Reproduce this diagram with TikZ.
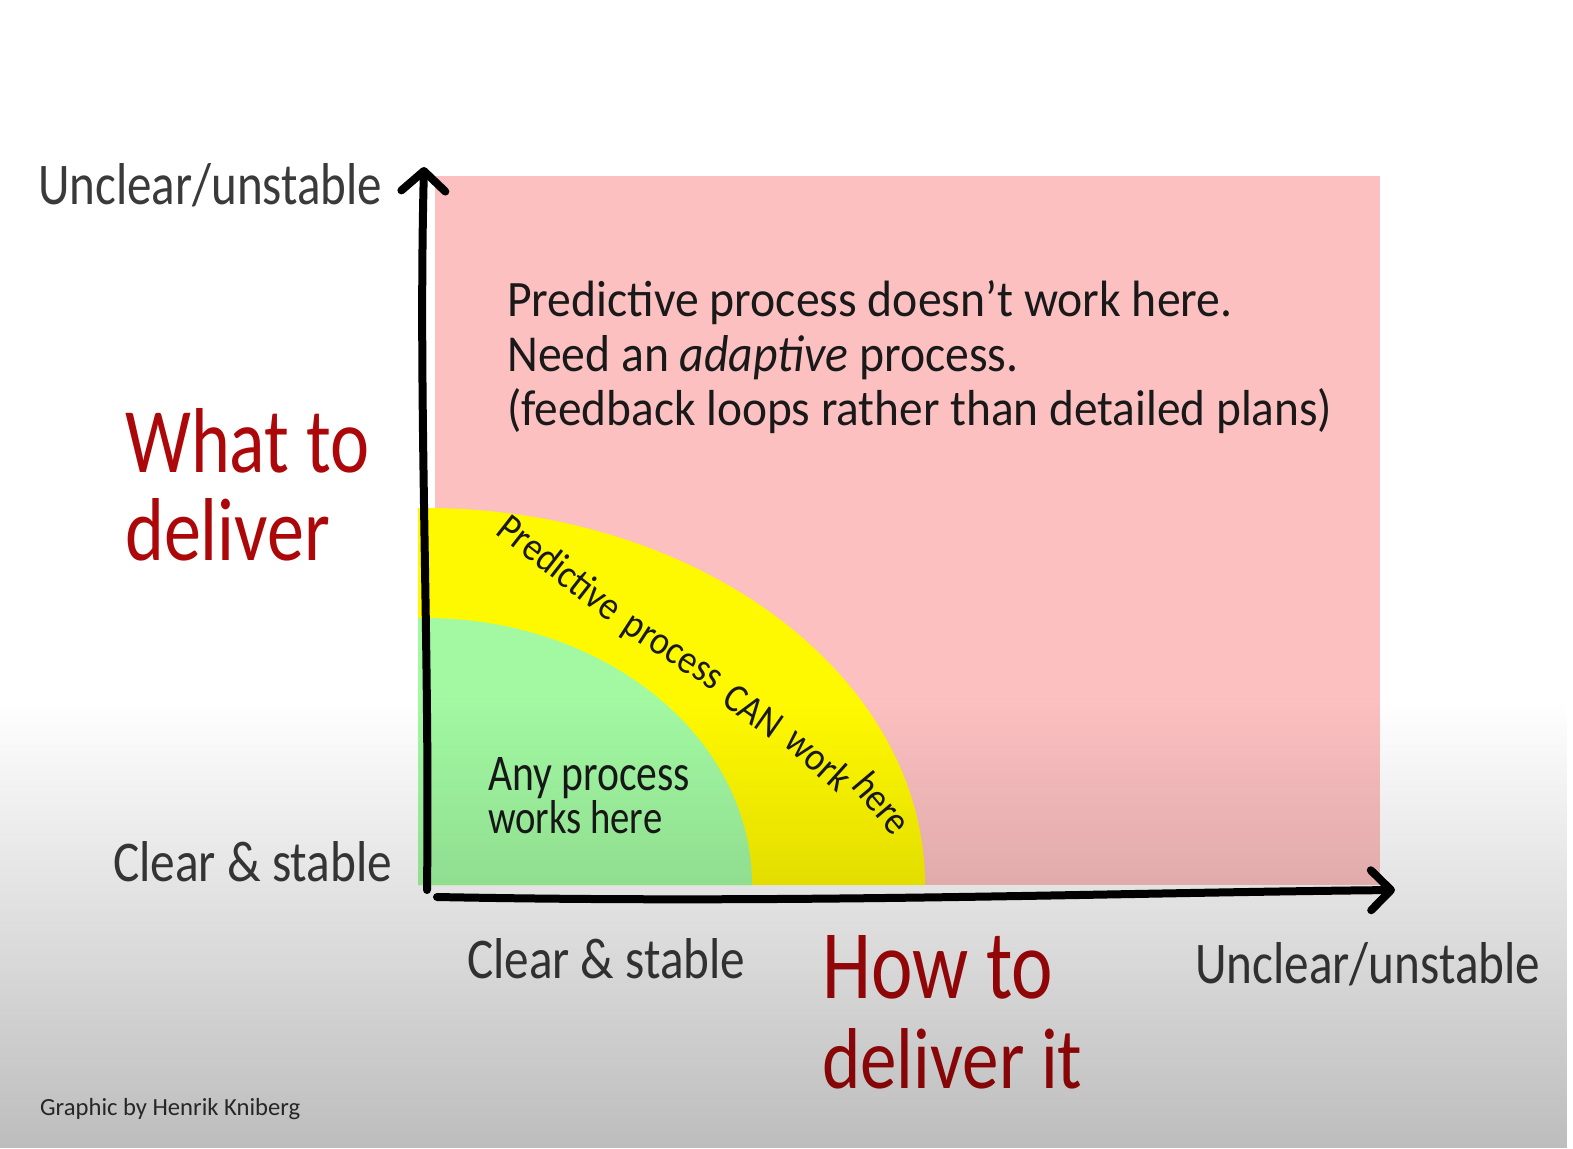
\documentclass[tikz,border=0pt]{standalone}
\usepackage{fontspec}
\setmainfont{Carlito}
\usetikzlibrary{arrows.meta,fadings}
\newcommand\fitbox[3]{\resizebox{#1}{#2}{#3}}
\definecolor{pinkbg}{RGB}{252,192,193}
\definecolor{yel}{RGB}{255,249,0}
\definecolor{grn}{RGB}{162,249,162}
\definecolor{lbl}{RGB}{58,58,58}
\definecolor{redlbl}{RGB}{172,8,10}
\tikzfading[name=darkfade, top color=transparent!100, bottom color=transparent!74]
\begin{document}
\begin{tikzpicture}[x=1pt,y=1pt,
  lbltext/.style={anchor=base west, inner sep=0pt, text=lbl},
  redtext/.style={anchor=base west, inner sep=0pt, text=redlbl},
  bodytext/.style={anchor=base west, inner sep=0pt, text=black!90},
  curvword/.style={anchor=base, inner sep=0pt, text=black!90, font=\fontsize{36}{36}\selectfont},
  axisline/.style={line width=8pt, line cap=round, line join=round, black}]
\useasboundingbox (0,0) rectangle (1573,-1148);
\fill[white] (0,0) rectangle (1573,-1148);
% regions
\fill[pinkbg] (435,-176) rectangle (1380,-885);
\fill[yel] (418,-885) -- (418,-508) -- (425,-508) arc[start angle=90,end angle=0,x radius=500,y radius=377] -- cycle;
\fill[grn] (418,-885) -- (418,-618) -- (425,-618) arc[start angle=90,end angle=0,x radius=327,y radius=267] -- cycle;
% curved text, word by word
\node[curvword, rotate=-38] (w1) at (552,-578) {\scalebox{1}[1.12]{Predictive}};
\node[curvword, rotate=-33] (w2) at (667,-661) {\scalebox{1}[1.12]{process}};
\node[curvword, rotate=-35] (w3) at (746,-722) {\scalebox{1}[1.12]{CAN}};
\node[curvword, rotate=-42] (w4) at (810,-769) {\scalebox{1}[1.12]{work}};
\node[curvword, rotate=-50] (w5) at (872,-812) {\scalebox{1}[1.12]{here}};
% pink text
\node[bodytext] (p1) at (507,-316) {\fitbox{725pt}{36pt}{Predictive process doesn’t work here.}};
\node[bodytext] (p2) at (507,-371) {\fitbox{511pt}{36pt}{Need an \textit{adaptive} process.}};
\node[bodytext] (p3) at (507,-425) {\fitbox{825pt}{37pt}{(feedback loops rather than detailed plans)}};
% green text
\node[bodytext] (g1) at (488,-790) {\fitbox{202pt}{33pt}{Any process}};
\node[bodytext] (g2) at (488,-833) {\fitbox{174pt}{33pt}{works here}};
% axis labels
\node[lbltext] (ylblTop) at (38,-204) {\fitbox{344pt}{41pt}{Unclear/unstable}};
\node[redtext] (ylblWhat) at (125,-472) {\fitbox{244pt}{64pt}{What to}};
\node[redtext] (ylblDeliver) at (125,-560) {\fitbox{205pt}{62pt}{deliver}};
\node[lbltext] (ylblBot) at (113,-881) {\fitbox{279pt}{40pt}{Clear \& stable}};
\node[lbltext] (xlblLeft) at (467,-978) {\fitbox{278pt}{40pt}{Clear \& stable}};
\node[redtext] (xlblHow) at (822,-998) {\fitbox{231pt}{63pt}{How to}};
\node[redtext] (xlblDeliver) at (822,-1088) {\fitbox{260pt}{60pt}{deliver it}};
\node[lbltext] (xlblRight) at (1195,-983) {\fitbox{345pt}{41pt}{Unclear/unstable}};
\node[anchor=base west, inner sep=0pt, text=black!80] (credit) at (40,-1115) {\resizebox{260pt}{!}{Graphic by Henrik Kniberg}};
% axes
\coordinate (O) at (427,-890);
\coordinate (Ytop) at (424,-167);
\coordinate (Xo) at (437,-897);
\coordinate (Xend) at (1395,-890);
\draw[axisline, -{Straight Barb[length=20pt 0 0, width=44pt 0 0, round]}] (O) .. controls (430,-650) and (418,-400) .. (Ytop);
\draw[axisline, -{Straight Barb[length=20pt 0 0, width=40pt 0 0, round]}] (Xo) .. controls (800,-904) and (1100,-893) .. (Xend);
% bottom darkening
\fill[black, path fading=darkfade] (0,-700) rectangle (1573,-1148);
\end{tikzpicture}
\end{document}
